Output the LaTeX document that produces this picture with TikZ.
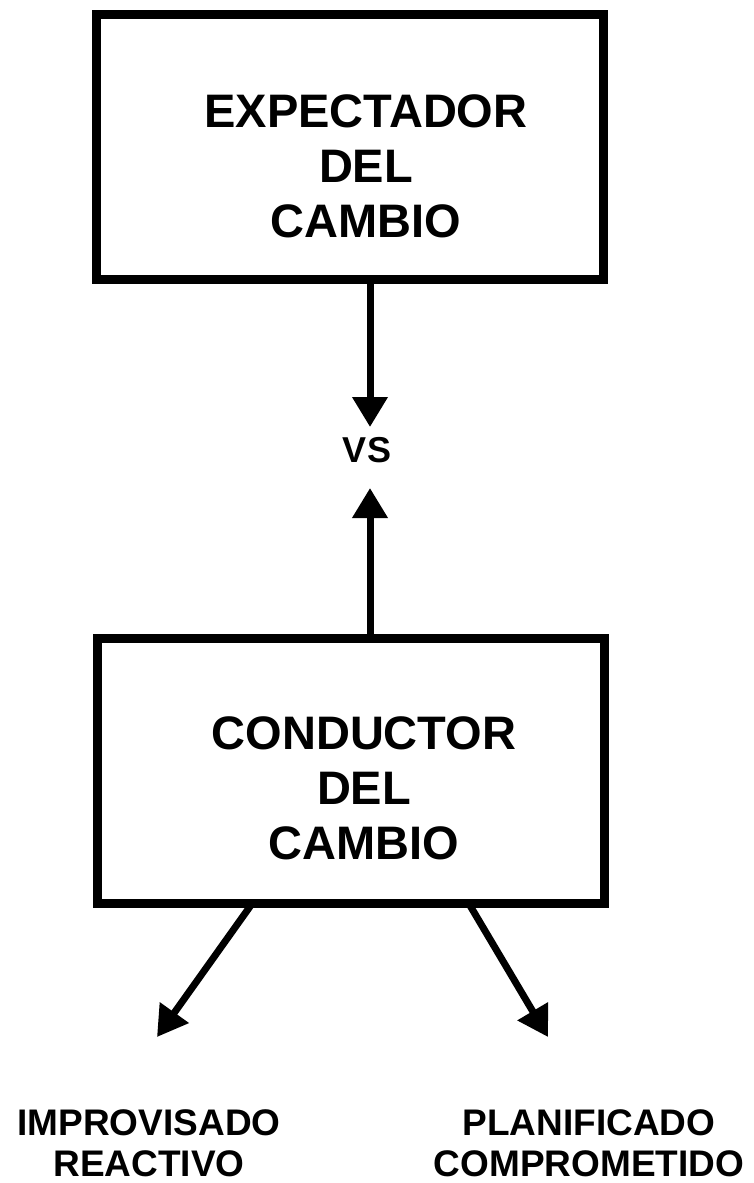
\documentclass[tikz,border=0pt]{standalone}
\usepackage{fontspec}
\setmainfont{Liberation Sans}
\usetikzlibrary{arrows.meta}
\usetikzlibrary{positioning}
\tikzset{caja/.style={rectangle, draw=black, line width=9pt, inner sep=0pt,
outer sep=0pt, minimum width=507pt, minimum height=265pt},
textocaja/.style={align=center, inner sep=0pt, font=\bfseries\fontsize{47}{55}\selectfont},
rotulo/.style={align=center, inner sep=0pt, font=\bfseries\fontsize{37}{41}\selectfont},
flecha/.style={->, line width=7pt},
>={Triangle[width=34pt,length=30pt]}}

\begin{document}
\begin{tikzpicture}[x=1pt,y=-1pt]
    \useasboundingbox (0,0) rectangle (754,1183);

    \node (expectador) [caja] at (350,146.5) {};
    \node (expectador_txt) [textocaja] at (366,166) {EXPECTADOR\\DEL\\CAMBIO};

    \node (vs) [inner sep=0pt, font=\bfseries\fontsize{36}{36}\selectfont] at (367,450) {VS};
    \coordinate (vs_arriba) at (370,427);
    \coordinate (vs_abajo) at (370,488);

    \node (conductor) [caja] at (350.5,770.5) {};
    \node (conductor_txt) [textocaja] at (364,788) {CONDUCTOR\\DEL\\CAMBIO};

    \coordinate (punta_izq) at (157,1037);
    \coordinate (punta_der) at (548,1037);

    \node (improvisado) [rotulo] at (149,1143) {IMPROVISADO\\REACTIVO};
    \node (planificado) [rotulo] at (589,1143) {PLANIFICADO\\COMPROMETIDO};

    \draw [flecha] (expectador.south -| vs_arriba) -- (vs_arriba);
    \draw [flecha] (conductor.north -| vs_abajo) -- (vs_abajo);

    \draw [flecha] ([xshift=-98pt]conductor.south) -- (punta_izq);
    \draw [flecha] ([xshift=118pt]conductor.south) -- (punta_der);

  \end{tikzpicture}
\end{document}
